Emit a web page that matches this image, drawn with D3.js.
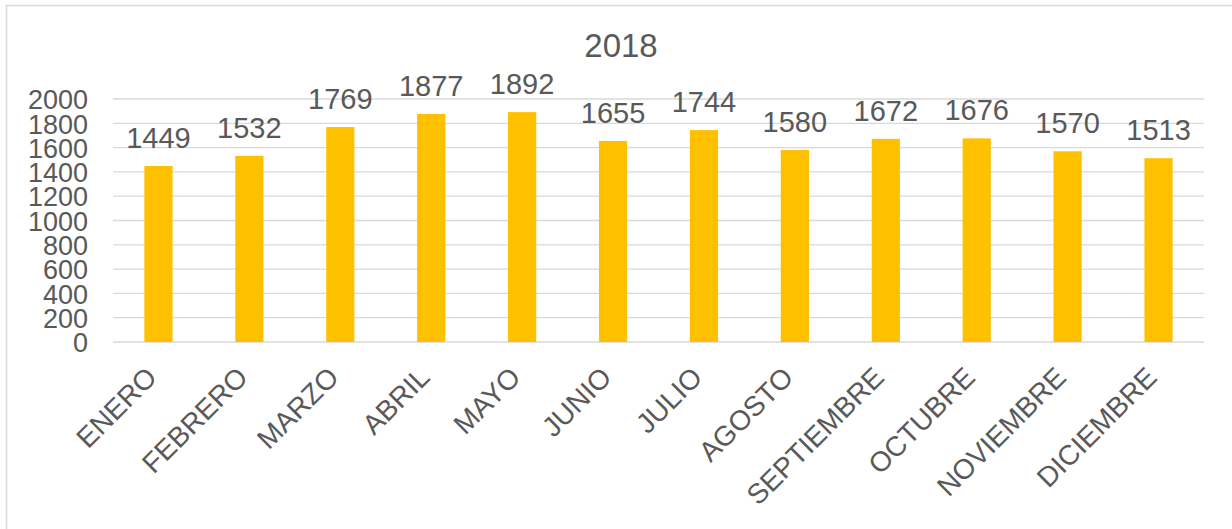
<!DOCTYPE html>
<html><head><meta charset="utf-8">
<script src="https://cdn.jsdelivr.net/npm/d3@7"></script>
<style>body{margin:0;background:#fff}svg{display:block}text{font-family:"Liberation Sans",Arial,sans-serif;fill:#595959}</style>
</head><body><svg id="c" width="1232" height="529"></svg>
<script>
const months = ["ENERO","FEBRERO","MARZO","ABRIL","MAYO","JUNIO","JULIO","AGOSTO","SEPTIEMBRE","OCTUBRE","NOVIEMBRE","DICIEMBRE"];
const values = [1449,1532,1769,1877,1892,1655,1744,1580,1672,1676,1570,1513];
const yTicks = [0,200,400,600,800,1000,1200,1400,1600,1800,2000];
const title = "2018";

const svg = d3.select("#c");
svg.append("rect").attr("x",6.5).attr("y",5.5).attr("width",1240).attr("height",540)
  .attr("fill","#fff").attr("stroke","#d9d9d9").attr("stroke-width",1.5);

const pL=113, pR=1204, pT=99, pB=342;
const x = d3.scaleBand().domain(months).range([pL,pR]).paddingInner(0.69).paddingOuter(0.345);
const y = d3.scaleLinear().domain([0,2000]).range([pB,pT]);

svg.append("g").selectAll("line").data(yTicks).join("line")
  .attr("x1",pL).attr("x2",pR).attr("y1",d=>y(d)).attr("y2",d=>y(d))
  .attr("stroke","#d9d9d9").attr("stroke-width",1.3);

const ya = svg.append("g").attr("transform",`translate(${pL},0)`)
  .call(d3.axisLeft(y).tickValues(yTicks).tickFormat(d3.format("d")).tickSize(0).tickPadding(25));
ya.select(".domain").remove();
ya.selectAll("text").style("font-size","27px").attr("fill","#595959").attr("dy","0.36em");

svg.append("g").selectAll("rect").data(values).join("rect")
  .attr("x",(d,i)=>x(months[i])).attr("width",x.bandwidth())
  .attr("y",d=>y(d)).attr("height",d=>y(0)-y(d)).attr("fill","#ffc000");

svg.append("g").selectAll("text").data(values).join("text")
  .attr("x",(d,i)=>x(months[i])+x.bandwidth()/2).attr("y",d=>y(d)-18)
  .attr("text-anchor","middle").style("font-size","29px").text(d=>d);

const xa = svg.append("g").attr("transform",`translate(0,${pB})`)
  .call(d3.axisBottom(x).tickSize(0));
xa.select(".domain").remove();
xa.selectAll("text").style("font-size","28px").attr("fill","#595959")
  .attr("text-anchor","end").attr("dy",null).attr("y",0)
  .attr("transform","translate(0,37) rotate(-45)");

svg.append("text").attr("x",621).attr("y",57).attr("text-anchor","middle")
  .style("font-size","33px").text(title);
</script></body></html>
